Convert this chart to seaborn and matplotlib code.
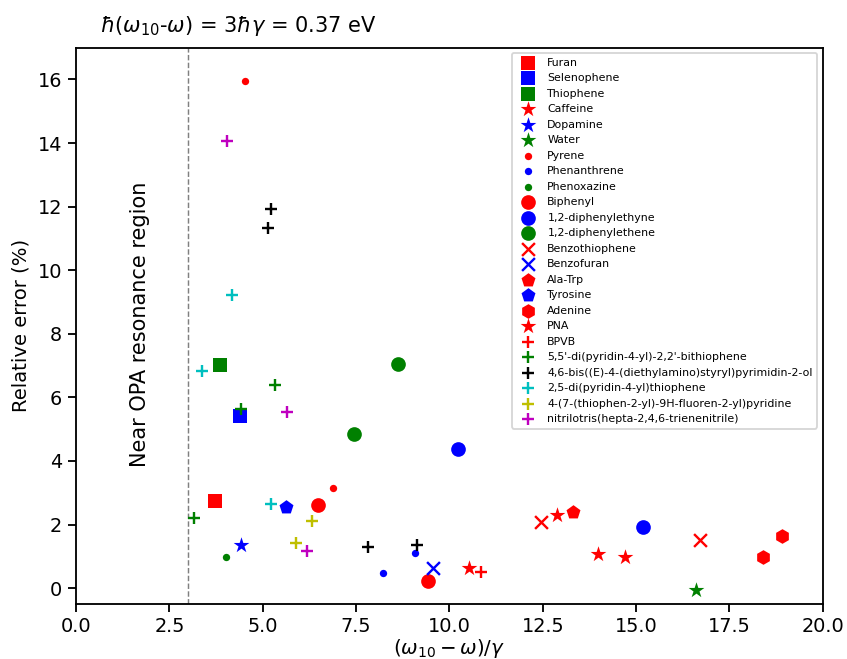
import matplotlib
matplotlib.use("Agg")
import matplotlib.pyplot as plt
import seaborn as sns
import pandas as pd

# ---- data (x = (w10-w)/gamma, y = relative error %) ----
furan_x = [3.71]; furan_y = [2.73]
selenophene_x = [4.39]; selenophene_y = [5.41]
thiophene_x = [3.85]; thiophene_y = [7.01]
caffeine_x = [10.53]; caffeine_y = [0.62]
dopamine_x = [4.41]; dopamine_y = [1.37]
water_x = [16.6]; water_y = [-0.07]
pyrene_x = [4.52, 6.89]; pyrene_y = [15.96, 3.15]
phenanthrene_x = [8.21, 9.08]; phenanthrene_y = [0.48, 1.09]
phenoxazine_x = [4.02]; phenoxazine_y = [0.98]
biphenyl_x = [6.47, 9.44]; biphenyl_y = [2.63, 0.23]
diphenylethyne_x = [10.22, 15.18]; diphenylethyne_y = [4.39, 1.91]
diphenylethene_x = [7.45, 8.62]; diphenylethene_y = [4.86, 7.06]
benzothiophene_x = [12.46, 16.72]; benzothiophene_y = [2.08, 1.51]
benzofuran_x = [9.55]; benzofuran_y = [0.62]
alatrp_x = [13.32]; alatrp_y = [2.40]
tyrosine_x = [5.63]; tyrosine_y = [2.55]
adenine_x = [18.41, 18.9]; adenine_y = [0.98, 1.64]
pna_x = [12.88, 13.97, 14.71]; pna_y = [2.29, 1.07, 0.98]
bpvb_x = [10.84]; bpvb_y = [0.51]
bithiophene_x = [3.16, 4.41, 5.33]; bithiophene_y = [2.22, 5.65, 6.38]
pyrimidinol_x = [5.15, 5.22, 7.83, 9.14]; pyrimidinol_y = [11.34, 11.94, 1.28, 1.37]
dipyridylthiophene_x = [3.37, 4.17, 5.21]; dipyridylthiophene_y = [6.82, 9.21, 2.66]
fluorenylpyridine_x = [5.89, 6.31]; fluorenylpyridine_y = [1.42, 2.10]
nitrilotris_x = [4.04, 5.66, 6.18]; nitrilotris_y = [14.08, 5.53, 1.16]

series = [
    ("Furan", furan_x, furan_y, "s", "r", 8),
    ("Selenophene", selenophene_x, selenophene_y, "s", "b", 8),
    ("Thiophene", thiophene_x, thiophene_y, "s", "g", 8),
    ("Caffeine", caffeine_x, caffeine_y, "*", "r", 9),
    ("Dopamine", dopamine_x, dopamine_y, "*", "b", 9),
    ("Water", water_x, water_y, "*", "g", 9),
    ("Pyrene", pyrene_x, pyrene_y, "o", "r", 4),
    ("Phenanthrene", phenanthrene_x, phenanthrene_y, "o", "b", 4),
    ("Phenoxazine", phenoxazine_x, phenoxazine_y, "o", "g", 4),
    ("Biphenyl", biphenyl_x, biphenyl_y, "o", "r", 8),
    ("1,2-diphenylethyne", diphenylethyne_x, diphenylethyne_y, "o", "b", 8),
    ("1,2-diphenylethene", diphenylethene_x, diphenylethene_y, "o", "g", 8),
    ("Benzothiophene", benzothiophene_x, benzothiophene_y, "x", "r", 7),
    ("Benzofuran", benzofuran_x, benzofuran_y, "x", "b", 7),
    ("Ala-Trp", alatrp_x, alatrp_y, "p", "r", 8),
    ("Tyrosine", tyrosine_x, tyrosine_y, "p", "b", 8),
    ("Adenine", adenine_x, adenine_y, "h", "r", 8),
    ("PNA", pna_x, pna_y, "*", "r", 9),
    ("BPVB", bpvb_x, bpvb_y, "+", "r", 7),
    ("5,5'-di(pyridin-4-yl)-2,2'-bithiophene", bithiophene_x, bithiophene_y, "+", "g", 7),
    ("4,6-bis((E)-4-(diethylamino)styryl)pyrimidin-2-ol", pyrimidinol_x, pyrimidinol_y, "+", "k", 7),
    ("2,5-di(pyridin-4-yl)thiophene", dipyridylthiophene_x, dipyridylthiophene_y, "+", "c", 7),
    ("4-(7-(thiophen-2-yl)-9H-fluoren-2-yl)pyridine", fluorenylpyridine_x, fluorenylpyridine_y, "+", "y", 7),
    ("nitrilotris(hepta-2,4,6-trienenitrile)", nitrilotris_x, nitrilotris_y, "+", "m", 7),
]

DPI = 132
fig = plt.figure(figsize=(847 / DPI, 659 / DPI), dpi=DPI)
ax = fig.add_axes([76 / 847, 1 - 604 / 659, (822.7 - 76) / 847, (604 - 47.7) / 659])

for name, xs, ys, mk, col, ms in series:
    df = pd.DataFrame({"x": xs, "y": ys})
    if mk in ("+", "x"):
        sns.scatterplot(data=df, x="x", y="y", marker=mk, color=col, s=ms ** 2,
                        linewidth=1.3, label=name, ax=ax, zorder=3)
    else:
        sns.scatterplot(data=df, x="x", y="y", marker=mk, color=col, s=ms ** 2,
                        linewidth=0, label=name, ax=ax, zorder=3)

ax.axvline(3, color="gray", linestyle="--", linewidth=0.8, zorder=1)
ax.text(1.72, 8.3, "Near OPA resonance region", rotation=90, ha="center", va="center", fontsize=11.4)

ax.set_xlim(0, 20)
ax.set_ylim(-0.5, 17)
ax.set_xticks([0, 2.5, 5, 7.5, 10, 12.5, 15, 17.5, 20])
ax.set_xticklabels(["0.0", "2.5", "5.0", "7.5", "10.0", "12.5", "15.0", "17.5", "20.0"])
ax.set_yticks([0, 2, 4, 6, 8, 10, 12, 14, 16])
for sp in ax.spines.values():
    sp.set_linewidth(1.0)
ax.tick_params(labelsize=10.5, length=4.2, width=1.0)
ax.tick_params(axis="x", pad=3.0)
ax.set_xlabel(r"$(\omega_{10}-\omega)/\gamma$", fontsize=10.8, labelpad=0.5)
ax.set_ylabel("Relative error (%)", fontsize=10.7)

fig.text(100 / 847, 1 - 26 / 659, r"$\hbar(\omega_{10}$-$\omega)$ = 3$\hbar\gamma$ = 0.37 eV",
         ha="left", va="center", fontsize=11.4)

ax.legend(loc="upper right", fontsize=6, labelspacing=0.5, scatterpoints=1,
          borderpad=0.4, handletextpad=0.8)

fig.savefig("out.png", dpi=DPI)
